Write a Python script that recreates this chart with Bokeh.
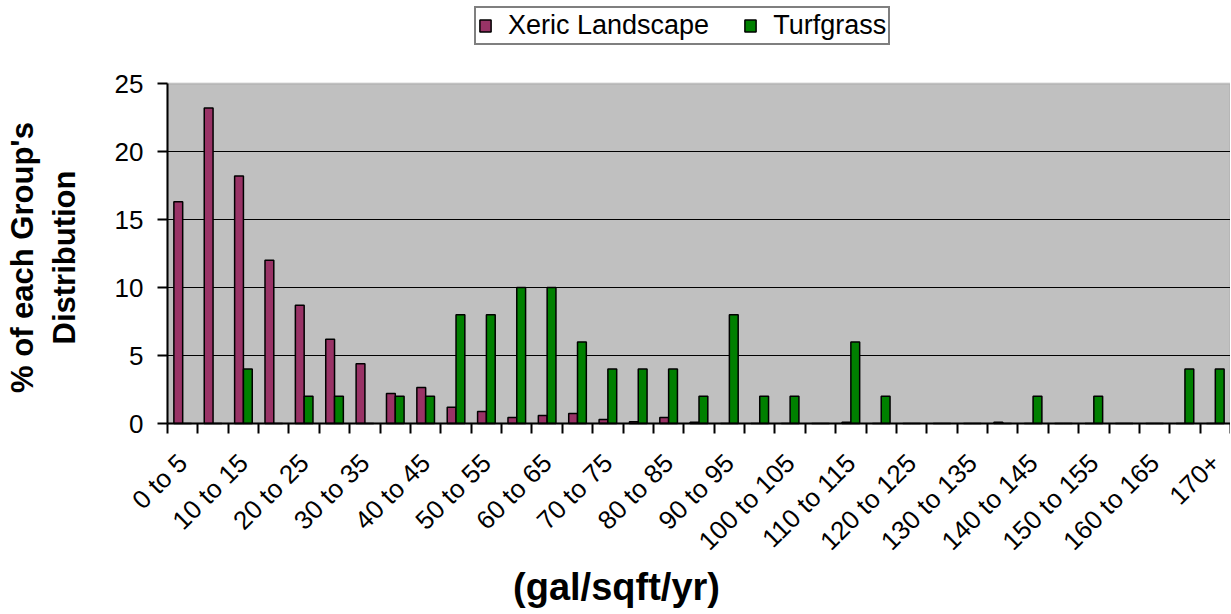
import numpy as np
from bokeh.plotting import figure
from bokeh.models import (Range1d, FixedTicker, Legend, LegendItem,
                          BoxAnnotation, Label)
from bokeh.embed import file_html
from bokeh.resources import INLINE

categories = ["0 to 5", "5 to 10", "10 to 15", "15 to 20", "20 to 25", "25 to 30",
              "30 to 35", "35 to 40", "40 to 45", "45 to 50", "50 to 55", "55 to 60",
              "60 to 65", "65 to 70", "70 to 75", "75 to 80", "80 to 85", "85 to 90",
              "90 to 95", "95 to 100", "100 to 105", "105 to 110", "110 to 115",
              "115 to 120", "120 to 125", "125 to 130", "130 to 135", "135 to 140",
              "140 to 145", "145 to 150", "150 to 155", "155 to 160", "160 to 165",
              "165 to 170", "170+"]
xeric = [16.3, 23.2, 18.2, 12.0, 8.7, 6.2, 4.4, 2.2, 2.65, 1.2, 0.88, 0.44,
         0.59, 0.74, 0.29, 0.12, 0.44, 0.1, 0, 0, 0, 0, 0.1, 0, 0, 0, 0, 0.1,
         0, 0, 0, 0, 0, 0, 0]
turf = [0, 0, 4, 0, 2, 2, 0, 2, 2, 8, 8, 10, 10, 6, 4, 4, 4, 2, 8, 2, 2, 0,
        6, 2, 0, 0, 0, 0, 2, 0, 2, 0, 0, 4, 4]
tick_labels = categories[::2]
y_ticks = [0, 5, 10, 15, 20, 25]
y_title_lines = ["% of each Group's", "Distribution"]
x_title = "(gal/sqft/yr)"

FONT = "Liberation Sans"
n = len(categories)
idx = np.arange(n)
bw = 0.29
YMAX = 25.0

# layout in pixels (the frame covers the whole canvas)
W, H = 1230, 613
AREA_TOP, AREA_BOTTOM, AREA_LEFT = 83, 423, 167
px_per_y = (AREA_BOTTOM - AREA_TOP) / YMAX
px_per_x = (W - AREA_LEFT) / n
x_start = -0.5 - AREA_LEFT / px_per_x


def xpx(px):
    return x_start + px / px_per_x


def ypx(py):
    return (AREA_BOTTOM - py) / px_per_y


p = figure(width=W, height=H, output_backend="svg", toolbar_location=None,
           x_range=Range1d(x_start, n - 0.5), y_range=Range1d(ypx(H), ypx(0)),
           min_border_left=0, min_border_right=0, min_border_top=0,
           min_border_bottom=0,
           background_fill_color="white", border_fill_color="white")
p.outline_line_color = None

# grey plot area (0..25) drawn beneath everything
area = BoxAnnotation(left=-0.5, right=n - 0.5, bottom=0, top=YMAX,
                     fill_color="#C0C0C0", fill_alpha=1,
                     line_color="#808080", line_width=2, level="image")
p.add_layout(area)

# horizontal gridlines inside the plot area
grid_y = y_ticks[1:-1]
p.segment(x0=[-0.5] * len(grid_y), x1=[n - 0.5] * len(grid_y),
          y0=grid_y, y1=grid_y, line_color="black", line_width=1)
p.ygrid.visible = False
p.xgrid.visible = False

r1 = p.vbar(x=idx - bw / 2, top=xeric, width=bw, fill_color="#993366",
            line_color="black", line_width=1.5)
r2 = p.vbar(x=idx + bw / 2, top=turf, width=bw, fill_color="#008000",
            line_color="black", line_width=1.5)

# y axis, pinned at the left edge of the plot area
yax = p.yaxis[0]
yax.fixed_location = -0.5
yax.bounds = (0, YMAX)
yax.ticker = FixedTicker(ticks=y_ticks)
yax.axis_line_color = "black"
yax.axis_line_width = 2
yax.major_tick_out = 10
yax.major_tick_in = 0
yax.major_tick_line_width = 2
yax.major_tick_line_color = "black"
yax.minor_tick_out = 0
yax.minor_tick_in = 0
yax.major_label_text_font = FONT
yax.major_label_text_font_size = "26px"
yax.major_label_text_color = "black"
yax.major_label_standoff = 14

for line, cx in zip(y_title_lines, [22, 64]):
    p.add_layout(Label(x=xpx(cx), y=ypx(257), text=line, angle=np.pi / 2,
                       text_align="center", text_baseline="middle",
                       text_font=FONT, text_font_size="31px",
                       text_font_style="bold", text_color="black"))

# x axis, pinned at y = 0
xax = p.xaxis[0]
xax.fixed_location = 0
xax.bounds = (-0.5, n - 0.5)
xax.ticker = FixedTicker(ticks=[int(i) for i in idx[::2]],
                         minor_ticks=[i - 0.5 for i in range(n + 1)])
xax.major_label_overrides = {int(i): lab for i, lab in zip(idx[::2], tick_labels)}
xax.major_label_orientation = np.pi / 4
xax.axis_line_color = "black"
xax.axis_line_width = 2
xax.major_tick_out = 0
xax.major_tick_in = 0
xax.minor_tick_out = 10
xax.minor_tick_in = 0
xax.minor_tick_line_width = 2
xax.minor_tick_line_color = "black"
xax.major_label_text_font = FONT
xax.major_label_text_font_size = "26px"
xax.major_label_text_color = "black"
xax.major_label_standoff = 25

p.add_layout(Label(x=xpx(616), y=ypx(586), text=x_title,
                   text_align="center", text_baseline="middle",
                   text_font=FONT, text_font_size="38px",
                   text_font_style="bold", text_color="black"))

legend = Legend(items=[LegendItem(label="Xeric Landscape", renderers=[r1]),
                       LegendItem(label="Turfgrass", renderers=[r2])],
                orientation="horizontal", location=(474, H - 45),
                border_line_color="black", border_line_width=2,
                background_fill_color="white", background_fill_alpha=1,
                label_text_font=FONT, label_text_font_size="27px",
                label_text_color="black",
                glyph_width=14, glyph_height=15, label_standoff=16,
                spacing=34, padding=2, margin=0)
p.add_layout(legend)

open("out.html", "w").write(file_html(p, INLINE))
